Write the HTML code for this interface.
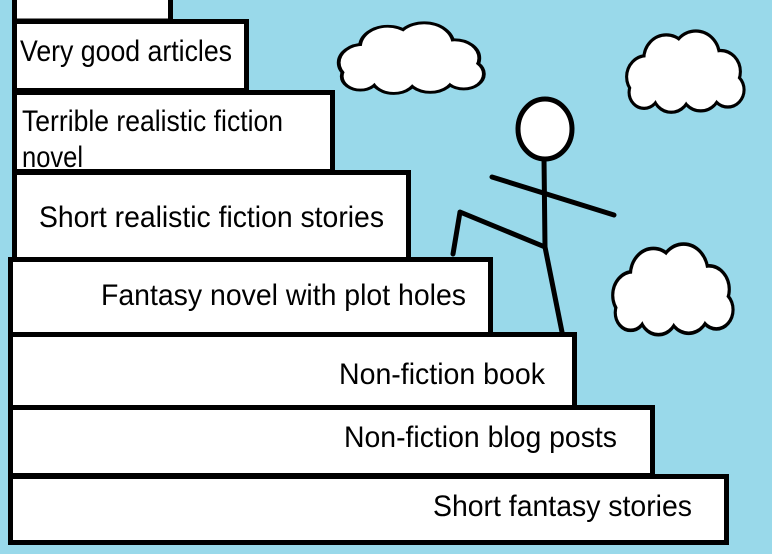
<!DOCTYPE html>
<html><head><meta charset="utf-8"><style>
html,body{margin:0;padding:0;background:#99d9ea;}
svg{display:block;}
text{font-family:"Liberation Sans",Arial,sans-serif;font-size:30px;fill:#000;}
</style></head><body>
<svg width="772" height="554" viewBox="0 0 772 554" xmlns="http://www.w3.org/2000/svg">
<defs>
<g id="cb">
<circle cx="20" cy="36" r="15"/><circle cx="36" cy="22" r="17"/><circle cx="60" cy="20" r="18"/><circle cx="80" cy="32" r="15"/><circle cx="86" cy="46" r="12"/><circle cx="64" cy="46" r="15"/><circle cx="40" cy="48" r="14"/><circle cx="18" cy="48" r="11"/><circle cx="50" cy="36" r="18"/>
</g>
<g id="cloud">
<use href="#cb" stroke="#000" stroke-width="5" fill="#fff" vector-effect="non-scaling-stroke"/>
<use href="#cb" fill="#fff" stroke="none"/>
</g>
</defs>
<rect width="772" height="554" fill="#99d9ea"/>
<g fill="#fff" stroke="#000" stroke-width="5">
<rect x="14.5" y="-10" width="156" height="31"/>
<rect x="14.5" y="21.5" width="232" height="69"/>
<rect x="14.5" y="92.5" width="318" height="79"/>
<rect x="14.5" y="172.5" width="394" height="87"/>
<rect x="10.5" y="259.5" width="480" height="75"/>
<rect x="10.5" y="334.5" width="564" height="73"/>
<rect x="10.5" y="407.5" width="642" height="68"/>
<rect x="10.5" y="476.5" width="716" height="66"/>
</g>
<text x="20" y="61" textLength="212" lengthAdjust="spacingAndGlyphs">Very good articles</text>
<text x="22" y="131" textLength="261" lengthAdjust="spacingAndGlyphs">Terrible realistic fiction</text>
<text x="22" y="167" textLength="61" lengthAdjust="spacingAndGlyphs">novel</text>
<text x="39" y="227" textLength="345" lengthAdjust="spacingAndGlyphs">Short realistic fiction stories</text>
<text x="101" y="305" textLength="365" lengthAdjust="spacingAndGlyphs">Fantasy novel with plot holes</text>
<text x="339" y="384" textLength="206" lengthAdjust="spacingAndGlyphs">Non-fiction book</text>
<text x="344" y="447" textLength="273" lengthAdjust="spacingAndGlyphs">Non-fiction blog posts</text>
<text x="433" y="516" textLength="259" lengthAdjust="spacingAndGlyphs">Short fantasy stories</text>
<g stroke="#000" stroke-width="5" fill="none" stroke-linecap="round" stroke-linejoin="round">
<line x1="544" y1="158" x2="545" y2="247"/>
<line x1="492" y1="177" x2="614" y2="215"/>
<polyline points="545,247 460,212 453,254"/>
<line x1="545" y1="247" x2="562" y2="332"/>
<ellipse cx="545" cy="129" rx="27" ry="30" fill="#fff"/>
</g>
<g transform="translate(333,22) scale(1.52,1.13)"><use href="#cloud"/></g>
<g transform="translate(622,30) scale(1.23,1.3)"><use href="#cloud"/></g>
<g transform="translate(608,243) scale(1.26,1.45)"><use href="#cloud"/></g>
</svg>
</body></html>
